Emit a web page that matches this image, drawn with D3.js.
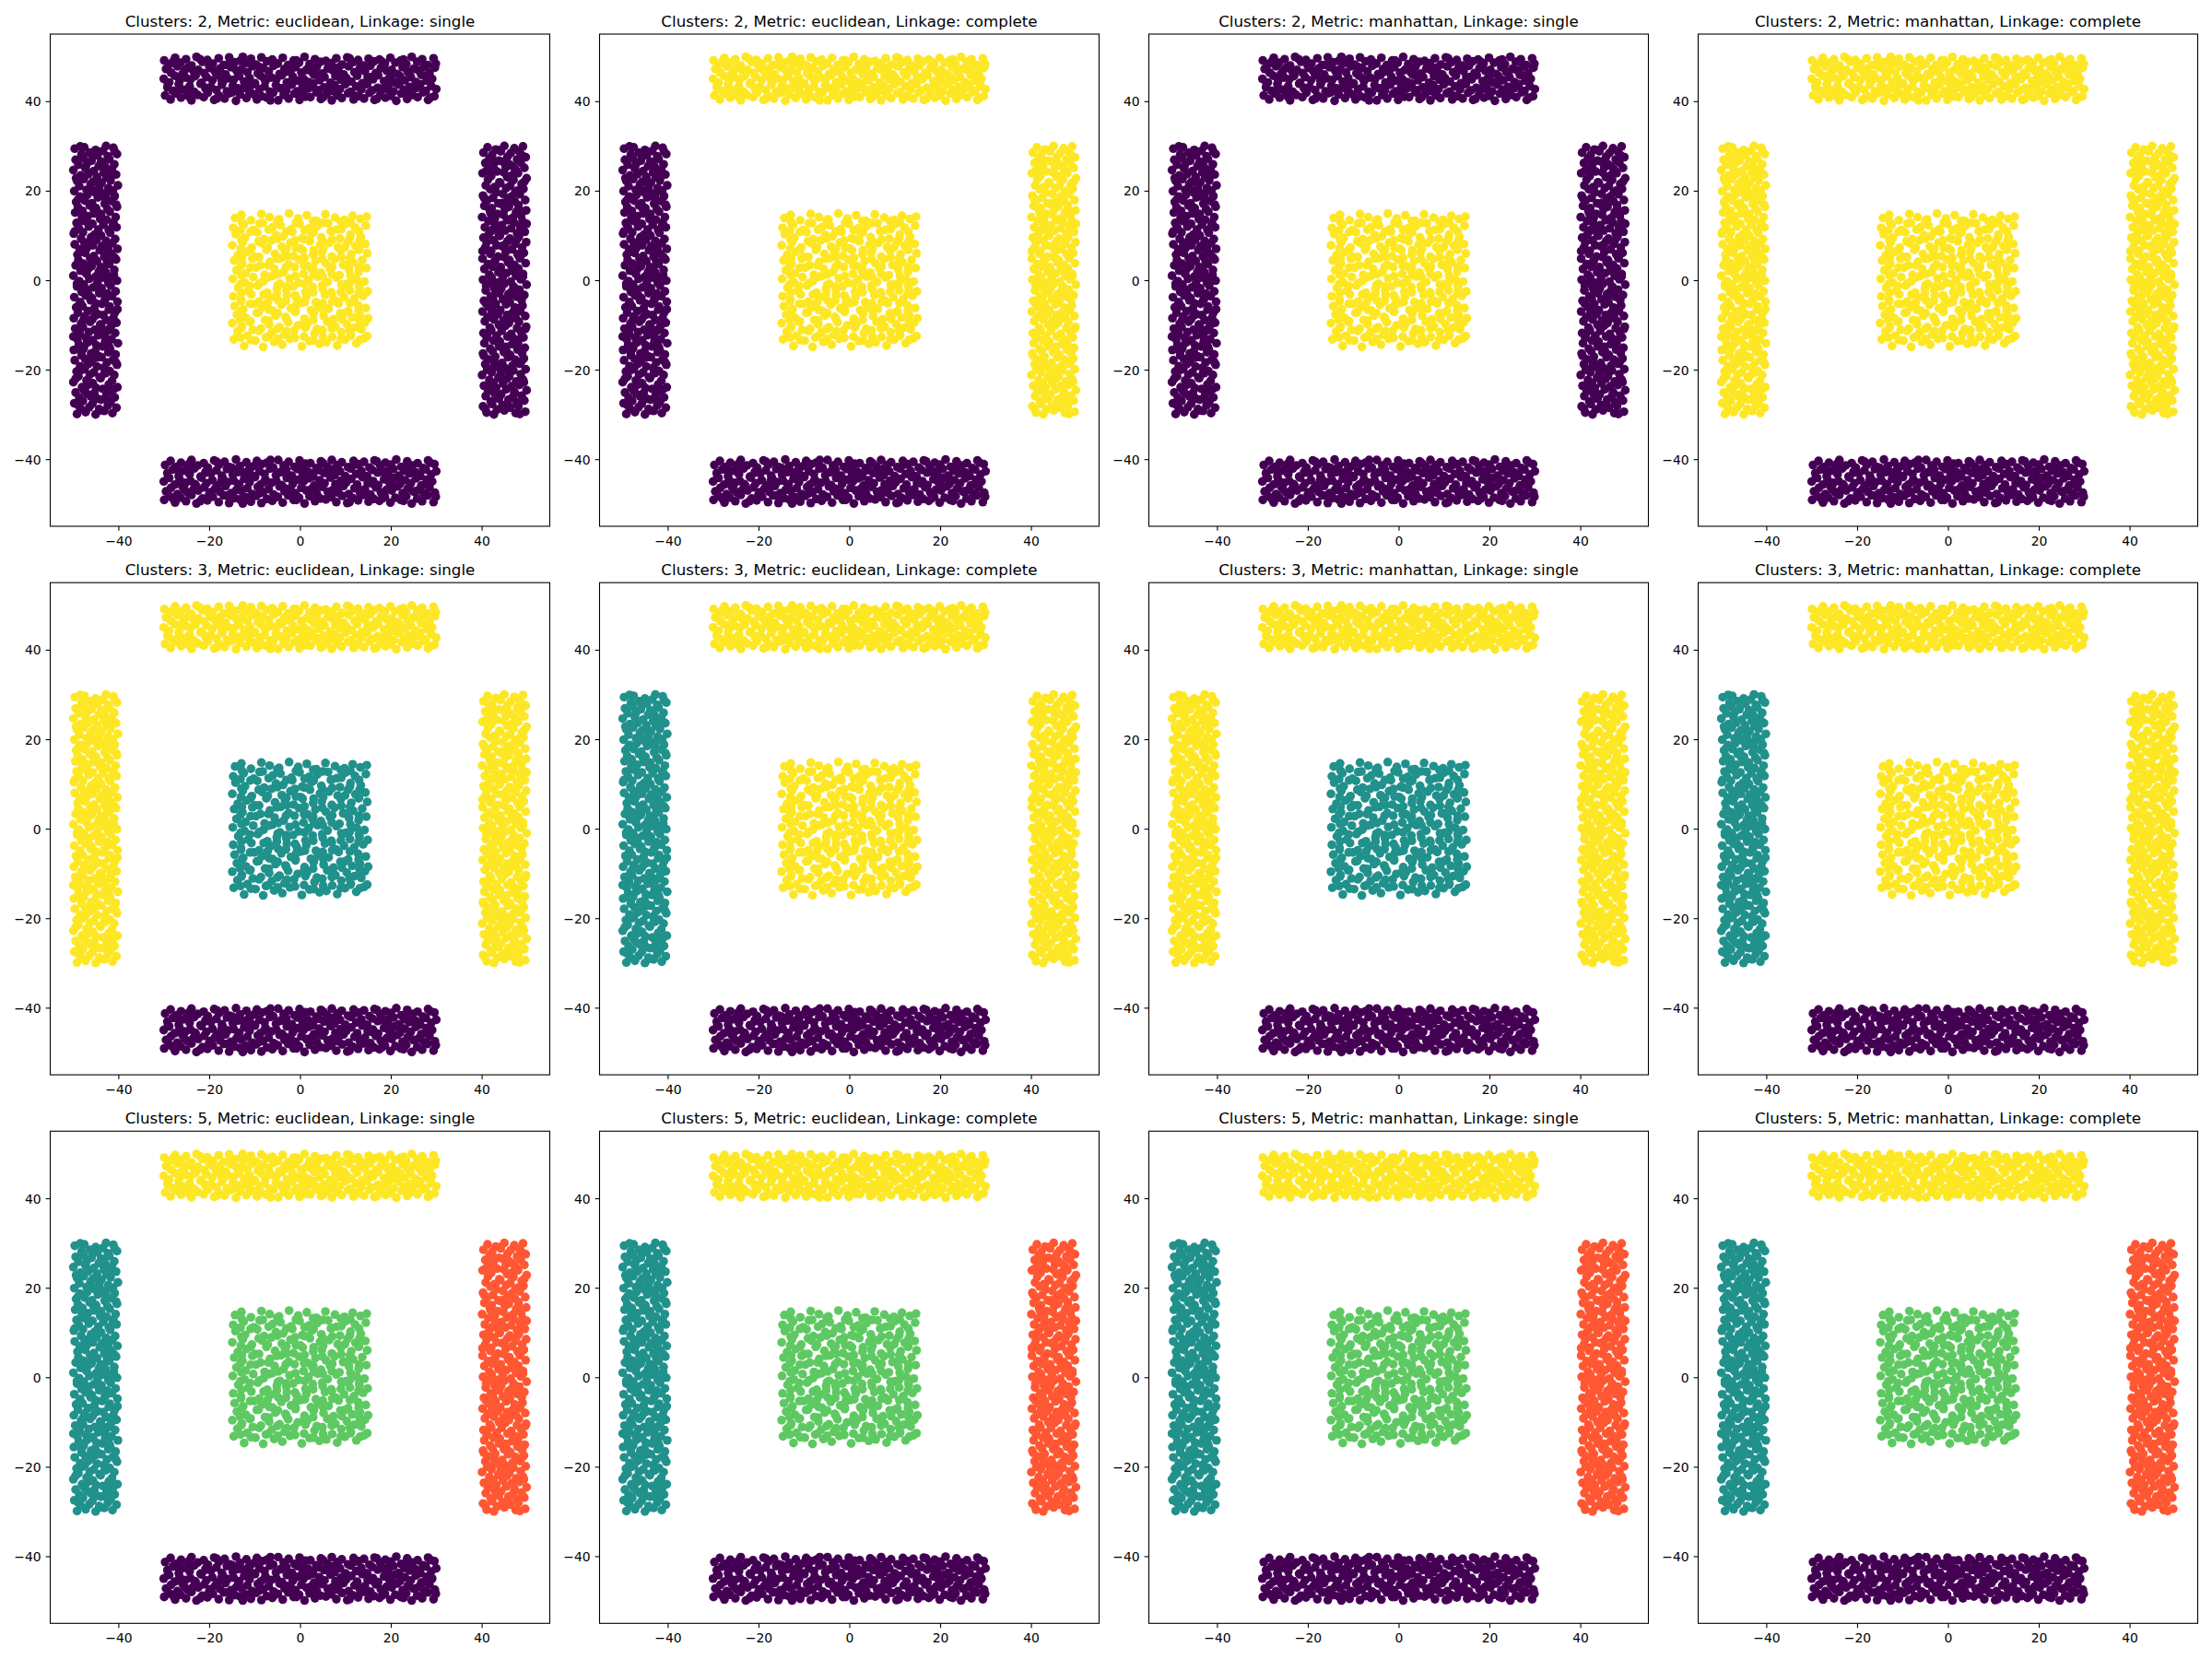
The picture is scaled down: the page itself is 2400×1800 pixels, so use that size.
<!DOCTYPE html>
<html><head><meta charset="utf-8">
<script src="https://cdn.jsdelivr.net/npm/d3@7"></script>
<style>body{margin:0;background:#fff}svg{display:block}</style>
</head><body>
<script>
// ---------- data ----------
const clusterCounts = [2, 3, 5];
const metrics = ["euclidean", "euclidean", "manhattan", "manhattan"];
const linkages = ["single", "complete", "single", "complete"];
const xTicks = [-40, -20, 0, 20, 40];
const yTicks = [-40, -20, 0, 20, 40];
const palette = {purple: "#440154", teal: "#21918c", green: "#5ec962", yellow: "#fde725", red: "#ff5733"};
// colour of each point group per panel (row-major); group order: top, bottom, left, right, center
const panelColors = [
  ["purple", "purple", "purple", "purple", "yellow"],
  ["yellow", "purple", "purple", "yellow", "yellow"],
  ["purple", "purple", "purple", "purple", "yellow"],
  ["yellow", "purple", "yellow", "yellow", "yellow"],
  ["yellow", "purple", "yellow", "yellow", "teal"],
  ["yellow", "purple", "teal", "yellow", "yellow"],
  ["yellow", "purple", "yellow", "yellow", "teal"],
  ["yellow", "purple", "teal", "yellow", "yellow"],
  ["yellow", "purple", "teal", "red", "green"],
  ["yellow", "purple", "teal", "red", "green"],
  ["yellow", "purple", "teal", "red", "green"],
  ["yellow", "purple", "teal", "red", "green"]
];

const topX = [
-29.7,-28.5,-27.2,-26.2,-24.8,-23.9,-22.5,-21.2,-20.3,-18.9,-17.8,-16.6,-15.5,-14.1,-13.2,-11.8,-10.9,-9.5,-8.4,-7.3,-5.9,-4.8,-3.6,-2.5,-1.2,-0.1,1.2,2.3,3.6,4.6,5.9,7.0,8.3,9.2,10.6,11.8,12.9,14.1,15.3,16.4,17.7,18.8,20.0,21.2,22.3,23.6,24.7,25.9,27.1,28.2,29.6,
-29.2,-28.0,-26.7,-25.6,-24.3,-23.3,-21.9,-20.8,-19.6,-18.4,-17.2,-16.1,-14.8,-13.7,-12.5,-11.3,-10.2,-8.9,-7.8,-6.6,-5.3,-4.2,-3.0,-1.8,-0.6,0.6,1.8,2.9,4.2,5.3,6.5,7.6,8.8,10.0,11.2,12.4,13.5,14.8,15.9,17.1,18.3,19.4,20.6,21.8,23.0,24.1,25.4,26.5,27.7,28.9,30.0,
-30.0,-28.8,-27.6,-26.5,-25.2,-24.1,-23.0,-21.7,-20.6,-19.3,-18.2,-17.0,-15.9,-14.6,-13.4,-12.3,-11.1,-9.9,-8.7,-7.6,-6.3,-5.2,-4.0,-2.9,-1.6,-0.5,0.8,1.9,3.1,4.3,5.4,6.7,7.8,9.0,10.2,11.3,12.6,13.7,14.9,16.1,17.2,18.5,19.6,20.8,22.0,23.1,24.4,25.5,26.7,27.9,29.1,
-29.5,-28.4,-27.0,-25.9,-24.7,-23.5,-22.4,-21.1,-20.0,-18.7,-17.6,-16.4,-15.2,-14.0,-12.9,-11.6,-10.5,-9.3,-8.1,-6.9,-5.8,-4.5,-3.4,-2.1,-1.0,0.3,1.4,2.6,3.7,4.9,6.1,7.2,8.4,9.6,10.7,12.0,13.1,14.3,15.5,16.7,17.8,19.1,20.2,21.4,22.6,23.7,25.0,26.1,27.3,28.5,29.7,
-29.9,-28.7,-27.5,-26.3,-25.1,-23.9,-22.8,-21.5,-20.4,-19.2,-17.9,-16.8,-15.6,-14.4,-13.2,-12.0,-10.8,-9.7,-8.5,-7.3,-6.1,-4.9,-3.8,-2.6,-1.4,-0.2,1.0,2.1,3.3,4.5,5.7,6.9,8.0,9.3,10.4,11.6,12.8,14.0,15.1,16.3,17.5,18.7,19.9,21.0,22.2,23.4,24.6,25.8,26.9,28.1,29.4,
-29.1,-27.9,-26.8,-25.4,-24.4,-23.1,-22.0,-20.7,-19.7,-18.3,-17.3,-16.0,-14.9,-13.6,-12.6,-11.2,-10.1,-9.0,-7.9,-6.5,-5.5,-4.3,-3.1,-1.9,-0.8,0.5,1.6,2.8,3.9,5.1,6.3,7.4,8.6,9.8,10.9,12.2,13.3,14.5,15.7,16.9,18.1,19.2,20.4,21.6,22.8,23.9,25.2,26.3,27.5,28.7,29.9
];
const topY = [
41.3,40.4,41.7,40.8,42.0,40.2,41.4,40.9,41.9,40.3,41.2,40.6,41.8,40.1,41.5,40.7,42.0,40.4,41.1,40.8,41.9,40.2,41.4,40.6,41.7,40.3,41.0,40.9,42.0,40.5,41.6,40.2,41.3,40.7,41.8,40.4,41.1,40.6,41.9,40.3,41.5,40.8,41.2,40.1,41.7,40.5,41.4,40.9,42.0,40.3,41.1,
43.1,42.3,43.8,42.6,43.4,42.1,43.9,42.8,43.2,42.5,43.7,42.2,43.5,42.9,43.0,42.4,43.8,42.7,43.3,42.1,43.6,42.9,42.4,43.7,42.2,43.4,42.8,43.9,42.5,43.1,42.3,43.6,42.7,43.8,42.1,43.3,42.6,43.9,42.4,43.0,42.8,43.5,42.2,43.7,42.6,43.2,42.9,43.8,42.3,43.4,42.7,
45.0,44.2,45.7,44.6,45.3,44.9,45.8,44.1,45.4,44.7,45.9,44.3,45.1,44.8,45.6,44.4,45.2,44.0,45.7,44.5,45.3,44.9,45.8,44.2,45.5,44.6,45.0,44.3,45.9,44.7,45.4,44.1,45.6,44.8,45.2,44.4,45.7,44.0,45.3,44.9,45.8,44.5,45.1,44.2,45.6,44.7,45.4,44.3,45.9,44.6,45.0,
47.2,46.4,47.8,46.1,47.5,46.8,47.0,46.3,47.9,46.6,47.3,46.0,47.6,46.9,47.1,46.5,47.8,46.2,47.4,46.7,47.9,46.1,47.2,46.8,47.6,46.4,47.0,46.6,47.7,46.2,47.3,46.9,47.5,46.0,47.8,46.5,47.1,46.7,47.9,46.3,47.4,46.8,47.0,46.1,47.6,46.6,47.2,46.9,47.7,46.3,47.5,
49.1,48.3,49.7,48.6,49.4,48.0,49.9,48.8,49.2,48.4,49.6,48.1,49.8,48.7,49.0,48.5,49.5,48.2,49.8,48.9,49.3,48.4,49.7,48.1,49.1,48.6,49.9,48.3,49.4,48.8,49.0,48.5,49.6,48.2,49.8,48.7,49.2,48.0,49.5,48.9,49.3,48.4,49.7,48.6,49.1,48.3,49.9,48.8,49.4,48.1,49.6,
44.1,48.9,42.5,46.9,41.0,45.6,49.4,43.0,47.4,40.6,44.8,48.1,42.0,46.2,49.9,43.6,41.5,47.7,45.1,40.2,48.6,42.9,46.6,44.4,49.1,41.8,47.1,43.3,45.9,40.9,48.3,42.2,46.4,44.6,49.6,41.2,47.9,43.8,45.4,40.5,48.8,42.7,46.0,44.0,49.3,41.6,47.3,43.4,45.7,40.8,48.4
];
const bottomX = [
-29.7,-28.5,-27.2,-26.2,-24.8,-23.9,-22.5,-21.2,-20.3,-18.9,-17.8,-16.6,-15.5,-14.1,-13.2,-11.8,-10.9,-9.5,-8.4,-7.3,-5.9,-4.8,-3.6,-2.5,-1.2,-0.1,1.2,2.3,3.6,4.6,5.9,7.0,8.3,9.2,10.6,11.8,12.9,14.1,15.3,16.4,17.7,18.8,20.0,21.2,22.3,23.6,24.7,25.9,27.1,28.2,29.6,
-29.2,-28.0,-26.7,-25.6,-24.3,-23.3,-21.9,-20.8,-19.6,-18.4,-17.2,-16.1,-14.8,-13.7,-12.5,-11.3,-10.2,-8.9,-7.8,-6.6,-5.3,-4.2,-3.0,-1.8,-0.6,0.6,1.8,2.9,4.2,5.3,6.5,7.6,8.8,10.0,11.2,12.4,13.5,14.8,15.9,17.1,18.3,19.4,20.6,21.8,23.0,24.1,25.4,26.5,27.7,28.9,30.0,
-30.0,-28.8,-27.6,-26.5,-25.2,-24.1,-23.0,-21.7,-20.6,-19.3,-18.2,-17.0,-15.9,-14.6,-13.4,-12.3,-11.1,-9.9,-8.7,-7.6,-6.3,-5.2,-4.0,-2.9,-1.6,-0.5,0.8,1.9,3.1,4.3,5.4,6.7,7.8,9.0,10.2,11.3,12.6,13.7,14.9,16.1,17.2,18.5,19.6,20.8,22.0,23.1,24.4,25.5,26.7,27.9,29.1,
-29.5,-28.4,-27.0,-25.9,-24.7,-23.5,-22.4,-21.1,-20.0,-18.7,-17.6,-16.4,-15.2,-14.0,-12.9,-11.6,-10.5,-9.3,-8.1,-6.9,-5.8,-4.5,-3.4,-2.1,-1.0,0.3,1.4,2.6,3.7,4.9,6.1,7.2,8.4,9.6,10.7,12.0,13.1,14.3,15.5,16.7,17.8,19.1,20.2,21.4,22.6,23.7,25.0,26.1,27.3,28.5,29.7,
-29.9,-28.7,-27.5,-26.3,-25.1,-23.9,-22.8,-21.5,-20.4,-19.2,-17.9,-16.8,-15.6,-14.4,-13.2,-12.0,-10.8,-9.7,-8.5,-7.3,-6.1,-4.9,-3.8,-2.6,-1.4,-0.2,1.0,2.1,3.3,4.5,5.7,6.9,8.0,9.3,10.4,11.6,12.8,14.0,15.1,16.3,17.5,18.7,19.9,21.0,22.2,23.4,24.6,25.8,26.9,28.1,29.4,
-29.1,-27.9,-26.8,-25.4,-24.4,-23.1,-22.0,-20.7,-19.7,-18.3,-17.3,-16.0,-14.9,-13.6,-12.6,-11.2,-10.1,-9.0,-7.9,-6.5,-5.5,-4.3,-3.1,-1.9,-0.8,0.5,1.6,2.8,3.9,5.1,6.3,7.4,8.6,9.8,10.9,12.2,13.3,14.5,15.7,16.9,18.1,19.2,20.4,21.6,22.8,23.9,25.2,26.3,27.5,28.7,29.9
];
const bottomY = [
-41.3,-40.4,-41.7,-40.8,-42.0,-40.2,-41.4,-40.9,-41.9,-40.3,-41.2,-40.6,-41.8,-40.1,-41.5,-40.7,-42.0,-40.4,-41.1,-40.8,-41.9,-40.2,-41.4,-40.6,-41.7,-40.3,-41.0,-40.9,-42.0,-40.5,-41.6,-40.2,-41.3,-40.7,-41.8,-40.4,-41.1,-40.6,-41.9,-40.3,-41.5,-40.8,-41.2,-40.1,-41.7,-40.5,-41.4,-40.9,-42.0,-40.3,-41.1,
-43.1,-42.3,-43.8,-42.6,-43.4,-42.1,-43.9,-42.8,-43.2,-42.5,-43.7,-42.2,-43.5,-42.9,-43.0,-42.4,-43.8,-42.7,-43.3,-42.1,-43.6,-42.9,-42.4,-43.7,-42.2,-43.4,-42.8,-43.9,-42.5,-43.1,-42.3,-43.6,-42.7,-43.8,-42.1,-43.3,-42.6,-43.9,-42.4,-43.0,-42.8,-43.5,-42.2,-43.7,-42.6,-43.2,-42.9,-43.8,-42.3,-43.4,-42.7,
-45.0,-44.2,-45.7,-44.6,-45.3,-44.9,-45.8,-44.1,-45.4,-44.7,-45.9,-44.3,-45.1,-44.8,-45.6,-44.4,-45.2,-44.0,-45.7,-44.5,-45.3,-44.9,-45.8,-44.2,-45.5,-44.6,-45.0,-44.3,-45.9,-44.7,-45.4,-44.1,-45.6,-44.8,-45.2,-44.4,-45.7,-44.0,-45.3,-44.9,-45.8,-44.5,-45.1,-44.2,-45.6,-44.7,-45.4,-44.3,-45.9,-44.6,-45.0,
-47.2,-46.4,-47.8,-46.1,-47.5,-46.8,-47.0,-46.3,-47.9,-46.6,-47.3,-46.0,-47.6,-46.9,-47.1,-46.5,-47.8,-46.2,-47.4,-46.7,-47.9,-46.1,-47.2,-46.8,-47.6,-46.4,-47.0,-46.6,-47.7,-46.2,-47.3,-46.9,-47.5,-46.0,-47.8,-46.5,-47.1,-46.7,-47.9,-46.3,-47.4,-46.8,-47.0,-46.1,-47.6,-46.6,-47.2,-46.9,-47.7,-46.3,-47.5,
-49.1,-48.3,-49.7,-48.6,-49.4,-48.0,-49.9,-48.8,-49.2,-48.4,-49.6,-48.1,-49.8,-48.7,-49.0,-48.5,-49.5,-48.2,-49.8,-48.9,-49.3,-48.4,-49.7,-48.1,-49.1,-48.6,-49.9,-48.3,-49.4,-48.8,-49.0,-48.5,-49.6,-48.2,-49.8,-48.7,-49.2,-48.0,-49.5,-48.9,-49.3,-48.4,-49.7,-48.6,-49.1,-48.3,-49.9,-48.8,-49.4,-48.1,-49.6,
-44.1,-48.9,-42.5,-46.9,-41.0,-45.6,-49.4,-43.0,-47.4,-40.6,-44.8,-48.1,-42.0,-46.2,-49.9,-43.6,-41.5,-47.7,-45.1,-40.2,-48.6,-42.9,-46.6,-44.4,-49.1,-41.8,-47.1,-43.3,-45.9,-40.9,-48.3,-42.2,-46.4,-44.6,-49.6,-41.2,-47.9,-43.8,-45.4,-40.5,-48.8,-42.7,-46.0,-44.0,-49.3,-41.6,-47.3,-43.4,-45.7,-40.8,-48.4
];
const leftX = [
-41.3,-40.4,-41.7,-40.8,-42.0,-40.2,-41.4,-40.9,-41.9,-40.3,-41.2,-40.6,-41.8,-40.1,-41.5,-40.7,-42.0,-40.4,-41.1,-40.8,-41.9,-40.2,-41.4,-40.6,-41.7,-40.3,-41.0,-40.9,-42.0,-40.5,-41.6,-40.2,-41.3,-40.7,-41.8,-40.4,-41.1,-40.6,-41.9,-40.3,-41.5,-40.8,-41.2,-40.1,-41.7,-40.5,-41.4,-40.9,-42.0,-40.3,-41.1,
-43.1,-42.3,-43.8,-42.6,-43.4,-42.1,-43.9,-42.8,-43.2,-42.5,-43.7,-42.2,-43.5,-42.9,-43.0,-42.4,-43.8,-42.7,-43.3,-42.1,-43.6,-42.9,-42.4,-43.7,-42.2,-43.4,-42.8,-43.9,-42.5,-43.1,-42.3,-43.6,-42.7,-43.8,-42.1,-43.3,-42.6,-43.9,-42.4,-43.0,-42.8,-43.5,-42.2,-43.7,-42.6,-43.2,-42.9,-43.8,-42.3,-43.4,-42.7,
-45.0,-44.2,-45.7,-44.6,-45.3,-44.9,-45.8,-44.1,-45.4,-44.7,-45.9,-44.3,-45.1,-44.8,-45.6,-44.4,-45.2,-44.0,-45.7,-44.5,-45.3,-44.9,-45.8,-44.2,-45.5,-44.6,-45.0,-44.3,-45.9,-44.7,-45.4,-44.1,-45.6,-44.8,-45.2,-44.4,-45.7,-44.0,-45.3,-44.9,-45.8,-44.5,-45.1,-44.2,-45.6,-44.7,-45.4,-44.3,-45.9,-44.6,-45.0,
-47.2,-46.4,-47.8,-46.1,-47.5,-46.8,-47.0,-46.3,-47.9,-46.6,-47.3,-46.0,-47.6,-46.9,-47.1,-46.5,-47.8,-46.2,-47.4,-46.7,-47.9,-46.1,-47.2,-46.8,-47.6,-46.4,-47.0,-46.6,-47.7,-46.2,-47.3,-46.9,-47.5,-46.0,-47.8,-46.5,-47.1,-46.7,-47.9,-46.3,-47.4,-46.8,-47.0,-46.1,-47.6,-46.6,-47.2,-46.9,-47.7,-46.3,-47.5,
-49.1,-48.3,-49.7,-48.6,-49.4,-48.0,-49.9,-48.8,-49.2,-48.4,-49.6,-48.1,-49.8,-48.7,-49.0,-48.5,-49.5,-48.2,-49.8,-48.9,-49.3,-48.4,-49.7,-48.1,-49.1,-48.6,-49.9,-48.3,-49.4,-48.8,-49.0,-48.5,-49.6,-48.2,-49.8,-48.7,-49.2,-48.0,-49.5,-48.9,-49.3,-48.4,-49.7,-48.6,-49.1,-48.3,-49.9,-48.8,-49.4,-48.1,-49.6,
-44.1,-48.9,-42.5,-46.9,-41.0,-45.6,-49.4,-43.0,-47.4,-40.6,-44.8,-48.1,-42.0,-46.2,-49.9,-43.6,-41.5,-47.7,-45.1,-40.2,-48.6,-42.9,-46.6,-44.4,-49.1,-41.8,-47.1,-43.3,-45.9,-40.9,-48.3,-42.2,-46.4,-44.6,-49.6,-41.2,-47.9,-43.8,-45.4,-40.5,-48.8,-42.7,-46.0,-44.0,-49.3,-41.6,-47.3,-43.4,-45.7,-40.8,-48.4
];
const leftY = [
-29.7,-28.5,-27.2,-26.2,-24.8,-23.9,-22.5,-21.2,-20.3,-18.9,-17.8,-16.6,-15.5,-14.1,-13.2,-11.8,-10.9,-9.5,-8.4,-7.3,-5.9,-4.8,-3.6,-2.5,-1.2,-0.1,1.2,2.3,3.6,4.6,5.9,7.0,8.3,9.2,10.6,11.8,12.9,14.1,15.3,16.4,17.7,18.8,20.0,21.2,22.3,23.6,24.7,25.9,27.1,28.2,29.6,
-29.2,-28.0,-26.7,-25.6,-24.3,-23.3,-21.9,-20.8,-19.6,-18.4,-17.2,-16.1,-14.8,-13.7,-12.5,-11.3,-10.2,-8.9,-7.8,-6.6,-5.3,-4.2,-3.0,-1.8,-0.6,0.6,1.8,2.9,4.2,5.3,6.5,7.6,8.8,10.0,11.2,12.4,13.5,14.8,15.9,17.1,18.3,19.4,20.6,21.8,23.0,24.1,25.4,26.5,27.7,28.9,30.0,
-30.0,-28.8,-27.6,-26.5,-25.2,-24.1,-23.0,-21.7,-20.6,-19.3,-18.2,-17.0,-15.9,-14.6,-13.4,-12.3,-11.1,-9.9,-8.7,-7.6,-6.3,-5.2,-4.0,-2.9,-1.6,-0.5,0.8,1.9,3.1,4.3,5.4,6.7,7.8,9.0,10.2,11.3,12.6,13.7,14.9,16.1,17.2,18.5,19.6,20.8,22.0,23.1,24.4,25.5,26.7,27.9,29.1,
-29.5,-28.4,-27.0,-25.9,-24.7,-23.5,-22.4,-21.1,-20.0,-18.7,-17.6,-16.4,-15.2,-14.0,-12.9,-11.6,-10.5,-9.3,-8.1,-6.9,-5.8,-4.5,-3.4,-2.1,-1.0,0.3,1.4,2.6,3.7,4.9,6.1,7.2,8.4,9.6,10.7,12.0,13.1,14.3,15.5,16.7,17.8,19.1,20.2,21.4,22.6,23.7,25.0,26.1,27.3,28.5,29.7,
-29.9,-28.7,-27.5,-26.3,-25.1,-23.9,-22.8,-21.5,-20.4,-19.2,-17.9,-16.8,-15.6,-14.4,-13.2,-12.0,-10.8,-9.7,-8.5,-7.3,-6.1,-4.9,-3.8,-2.6,-1.4,-0.2,1.0,2.1,3.3,4.5,5.7,6.9,8.0,9.3,10.4,11.6,12.8,14.0,15.1,16.3,17.5,18.7,19.9,21.0,22.2,23.4,24.6,25.8,26.9,28.1,29.4,
-29.1,-27.9,-26.8,-25.4,-24.4,-23.1,-22.0,-20.7,-19.7,-18.3,-17.3,-16.0,-14.9,-13.6,-12.6,-11.2,-10.1,-9.0,-7.9,-6.5,-5.5,-4.3,-3.1,-1.9,-0.8,0.5,1.6,2.8,3.9,5.1,6.3,7.4,8.6,9.8,10.9,12.2,13.3,14.5,15.7,16.9,18.1,19.2,20.4,21.6,22.8,23.9,25.2,26.3,27.5,28.7,29.9
];
const rightX = [
41.3,40.4,41.7,40.8,42.0,40.2,41.4,40.9,41.9,40.3,41.2,40.6,41.8,40.1,41.5,40.7,42.0,40.4,41.1,40.8,41.9,40.2,41.4,40.6,41.7,40.3,41.0,40.9,42.0,40.5,41.6,40.2,41.3,40.7,41.8,40.4,41.1,40.6,41.9,40.3,41.5,40.8,41.2,40.1,41.7,40.5,41.4,40.9,42.0,40.3,41.1,
43.1,42.3,43.8,42.6,43.4,42.1,43.9,42.8,43.2,42.5,43.7,42.2,43.5,42.9,43.0,42.4,43.8,42.7,43.3,42.1,43.6,42.9,42.4,43.7,42.2,43.4,42.8,43.9,42.5,43.1,42.3,43.6,42.7,43.8,42.1,43.3,42.6,43.9,42.4,43.0,42.8,43.5,42.2,43.7,42.6,43.2,42.9,43.8,42.3,43.4,42.7,
45.0,44.2,45.7,44.6,45.3,44.9,45.8,44.1,45.4,44.7,45.9,44.3,45.1,44.8,45.6,44.4,45.2,44.0,45.7,44.5,45.3,44.9,45.8,44.2,45.5,44.6,45.0,44.3,45.9,44.7,45.4,44.1,45.6,44.8,45.2,44.4,45.7,44.0,45.3,44.9,45.8,44.5,45.1,44.2,45.6,44.7,45.4,44.3,45.9,44.6,45.0,
47.2,46.4,47.8,46.1,47.5,46.8,47.0,46.3,47.9,46.6,47.3,46.0,47.6,46.9,47.1,46.5,47.8,46.2,47.4,46.7,47.9,46.1,47.2,46.8,47.6,46.4,47.0,46.6,47.7,46.2,47.3,46.9,47.5,46.0,47.8,46.5,47.1,46.7,47.9,46.3,47.4,46.8,47.0,46.1,47.6,46.6,47.2,46.9,47.7,46.3,47.5,
49.1,48.3,49.7,48.6,49.4,48.0,49.9,48.8,49.2,48.4,49.6,48.1,49.8,48.7,49.0,48.5,49.5,48.2,49.8,48.9,49.3,48.4,49.7,48.1,49.1,48.6,49.9,48.3,49.4,48.8,49.0,48.5,49.6,48.2,49.8,48.7,49.2,48.0,49.5,48.9,49.3,48.4,49.7,48.6,49.1,48.3,49.9,48.8,49.4,48.1,49.6,
44.1,48.9,42.5,46.9,41.0,45.6,49.4,43.0,47.4,40.6,44.8,48.1,42.0,46.2,49.9,43.6,41.5,47.7,45.1,40.2,48.6,42.9,46.6,44.4,49.1,41.8,47.1,43.3,45.9,40.9,48.3,42.2,46.4,44.6,49.6,41.2,47.9,43.8,45.4,40.5,48.8,42.7,46.0,44.0,49.3,41.6,47.3,43.4,45.7,40.8,48.4
];
const rightY = [
29.7,28.5,27.2,26.2,24.8,23.9,22.5,21.2,20.3,18.9,17.8,16.6,15.5,14.1,13.2,11.8,10.9,9.5,8.4,7.3,5.9,4.8,3.6,2.5,1.2,0.1,-1.2,-2.3,-3.6,-4.6,-5.9,-7.0,-8.3,-9.2,-10.6,-11.8,-12.9,-14.1,-15.3,-16.4,-17.7,-18.8,-20.0,-21.2,-22.3,-23.6,-24.7,-25.9,-27.1,-28.2,-29.6,
29.2,28.0,26.7,25.6,24.3,23.3,21.9,20.8,19.6,18.4,17.2,16.1,14.8,13.7,12.5,11.3,10.2,8.9,7.8,6.6,5.3,4.2,3.0,1.8,0.6,-0.6,-1.8,-2.9,-4.2,-5.3,-6.5,-7.6,-8.8,-10.0,-11.2,-12.4,-13.5,-14.8,-15.9,-17.1,-18.3,-19.4,-20.6,-21.8,-23.0,-24.1,-25.4,-26.5,-27.7,-28.9,-30.0,
30.0,28.8,27.6,26.5,25.2,24.1,23.0,21.7,20.6,19.3,18.2,17.0,15.9,14.6,13.4,12.3,11.1,9.9,8.7,7.6,6.3,5.2,4.0,2.9,1.6,0.5,-0.8,-1.9,-3.1,-4.3,-5.4,-6.7,-7.8,-9.0,-10.2,-11.3,-12.6,-13.7,-14.9,-16.1,-17.2,-18.5,-19.6,-20.8,-22.0,-23.1,-24.4,-25.5,-26.7,-27.9,-29.1,
29.5,28.4,27.0,25.9,24.7,23.5,22.4,21.1,20.0,18.7,17.6,16.4,15.2,14.0,12.9,11.6,10.5,9.3,8.1,6.9,5.8,4.5,3.4,2.1,1.0,-0.3,-1.4,-2.6,-3.7,-4.9,-6.1,-7.2,-8.4,-9.6,-10.7,-12.0,-13.1,-14.3,-15.5,-16.7,-17.8,-19.1,-20.2,-21.4,-22.6,-23.7,-25.0,-26.1,-27.3,-28.5,-29.7,
29.9,28.7,27.5,26.3,25.1,23.9,22.8,21.5,20.4,19.2,17.9,16.8,15.6,14.4,13.2,12.0,10.8,9.7,8.5,7.3,6.1,4.9,3.8,2.6,1.4,0.2,-1.0,-2.1,-3.3,-4.5,-5.7,-6.9,-8.0,-9.3,-10.4,-11.6,-12.8,-14.0,-15.1,-16.3,-17.5,-18.7,-19.9,-21.0,-22.2,-23.4,-24.6,-25.8,-26.9,-28.1,-29.4,
29.1,27.9,26.8,25.4,24.4,23.1,22.0,20.7,19.7,18.3,17.3,16.0,14.9,13.6,12.6,11.2,10.1,9.0,7.9,6.5,5.5,4.3,3.1,1.9,0.8,-0.5,-1.6,-2.8,-3.9,-5.1,-6.3,-7.4,-8.6,-9.8,-10.9,-12.2,-13.3,-14.5,-15.7,-16.9,-18.1,-19.2,-20.4,-21.6,-22.8,-23.9,-25.2,-26.3,-27.5,-28.7,-29.9
];
const centerX = [
-14.6,-12.3,-9.8,-8.1,-5.7,-3.9,-2.2,0.4,2.1,4.3,5.8,8.2,9.9,12.4,14.1,
-13.8,-11.6,-10.4,-7.5,-6.2,-3.4,-1.3,0.9,3.2,4.9,7.1,9.1,11.2,13.5,14.8,
-14.9,-12.8,-10.9,-8.6,-6.8,-4.5,-2.6,-0.5,1.6,3.7,6.0,7.8,10.3,12.0,14.3,
-13.9,-11.9,-9.5,-7.7,-5.4,-3.2,-1.0,1.0,3.0,5.2,7.4,8.9,11.5,13.2,15.0,
-14.4,-12.5,-10.1,-8.4,-6.0,-4.1,-2.0,0.2,2.4,4.0,6.3,8.5,10.6,12.8,14.5,
-14.7,-13.0,-10.7,-9.0,-6.5,-4.8,-2.9,-0.7,1.4,3.5,5.5,7.9,9.7,11.9,13.9,
-13.6,-11.4,-9.3,-7.2,-5.1,-3.0,-1.5,1.2,2.8,5.0,6.9,9.3,11.0,13.1,14.9,
-14.8,-12.2,-10.3,-8.0,-6.1,-4.4,-2.3,-0.3,1.9,3.9,6.1,8.0,10.1,12.5,14.2,
-14.0,-12.0,-9.7,-7.8,-5.6,-3.6,-1.2,0.8,2.7,4.6,6.6,8.7,10.8,12.9,14.6,
-14.5,-12.7,-10.5,-8.7,-6.6,-4.2,-2.5,-0.2,1.7,3.4,5.7,7.6,9.5,11.7,13.7,
-13.7,-11.8,-9.9,-7.4,-5.5,-3.3,-1.4,0.6,2.9,4.8,7.0,9.0,11.3,13.0,14.8,
-14.9,-12.6,-10.6,-8.3,-6.3,-4.0,-2.1,0.1,2.2,4.4,6.4,8.3,10.5,12.2,14.4,
-14.2,-12.1,-9.4,-7.9,-5.3,-3.7,-1.7,0.5,2.5,4.7,6.8,8.8,11.1,13.4,
-14.7,-12.4,-10.2,-8.2,-6.0,-4.3,-1.9,-0.1,2.0,3.8,6.2,8.1,10.0,12.1,14.5,
-14.3,-12.9,-10.8,-8.5,-6.7,-4.6,-2.4,-0.4,1.5,3.6,5.6,7.7,9.8,11.6,13.3,14.7,
-13.1,-10.8,-7.0,-4.9,-1.1,3.0,5.1,9.0,11.1,13.2,
-12.9,-9.0,-5.0,-2.9,1.2,4.9,7.0,10.9,13.0,
-13.2,-11.1,-6.9,-3.0,0.9,2.9,6.8,9.2,13.1,
-12.8,-9.1,-6.8,-4.9,-1.0,3.1,5.1,9.9,12.9,
-13.0,-11.0,-7.1,-3.1,-0.8,1.1,5.0,7.1,11.0,
-12.9,-8.0,-5.1,-1.1,2.9,7.0,9.0,12.9,
-13.1,-11.0,-8.9,-4.9,-3.0,1.0,4.9,9.1,11.0,13.0,
-12.9,-6.9,-4.8,-1.0,3.1,5.0,7.0,11.1,
-13.1,-10.9,-7.0,-3.1,0.9,2.9,7.1,10.0,13.0,
-12.8,-9.0,-5.1,-2.9,1.0,4.9,9.1,11.0,
-13.0,-10.9,-7.1,-3.0,-0.9,3.0,5.1,9.9,12.9,
-12.9,-9.1,-5.0,-1.1,1.0,5.0,7.1,11.0,13.1,
-13.1,-10.9,-6.9,-3.0,1.0,3.0,7.0,9.1,13.0,
-12.8,-8.9,-5.0,-0.9,2.9,5.0,9.0,11.1
];
const centerY = [
-13.2,-14.7,-13.5,-14.9,-13.8,-14.4,-13.1,-14.8,-13.6,-14.2,-13.9,-14.6,-13.3,-14.1,-13.0,
-11.5,-12.4,-11.1,-12.8,-11.7,-12.2,-11.3,-12.6,-11.9,-11.2,-12.7,-11.6,-12.3,-11.0,-12.5,
-9.6,-10.3,-9.2,-10.8,-9.9,-10.5,-9.4,-10.1,-9.7,-10.9,-9.3,-10.4,-9.8,-10.6,-9.5,
-7.7,-8.4,-7.3,-8.9,-7.9,-8.2,-7.1,-8.6,-7.5,-8.0,-8.7,-7.4,-8.3,-7.8,-8.5,
-5.8,-6.5,-5.3,-6.1,-6.8,-5.5,-6.3,-5.1,-6.7,-5.9,-6.4,-5.2,-6.9,-5.6,-6.2,
-3.6,-4.3,-3.2,-4.8,-3.9,-4.5,-3.4,-4.1,-3.7,-4.9,-3.3,-4.6,-3.8,-4.2,-3.5,
-1.7,-2.4,-1.2,-2.8,-1.9,-2.2,-1.4,-2.6,-1.5,-2.0,-2.7,-1.3,-2.3,-1.8,-2.5,
0.3,-0.5,0.7,-0.2,0.9,-0.8,0.4,-0.6,0.1,0.8,-0.4,0.6,-0.9,0.2,-0.3,
2.2,1.5,2.8,1.2,2.5,1.8,2.9,1.4,2.3,1.7,2.6,1.1,2.4,1.9,2.7,
4.4,3.7,4.8,3.3,4.1,4.9,3.5,4.6,3.2,4.3,3.8,4.7,3.4,4.0,4.5,
5.6,6.3,5.2,6.8,5.9,6.4,5.4,6.7,5.7,6.1,5.3,6.6,5.8,6.9,6.0,
7.8,8.5,7.3,8.2,8.9,7.5,8.4,7.1,8.7,7.9,8.3,7.4,8.6,7.7,8.1,
10.3,9.5,10.7,9.2,10.1,9.8,10.8,9.4,10.4,9.6,10.9,9.3,10.2,9.7,
11.7,12.4,11.2,12.8,11.9,12.3,11.4,12.6,11.6,12.1,12.7,11.3,12.5,11.8,12.2,
13.9,14.6,13.4,14.8,14.1,13.6,14.9,13.8,14.5,13.3,14.7,14.0,13.5,14.4,13.7,14.2,
-12.8,-13.4,-12.6,-13.1,-12.9,-13.5,-12.7,-13.2,-12.5,-13.3,
-10.7,-11.3,-10.9,-11.4,-10.6,-11.2,-10.8,-11.1,-10.5,
-8.8,-9.3,-9.0,-8.6,-9.4,-8.9,-9.2,-8.7,-9.1,
-6.9,-7.2,-6.6,-7.4,-6.8,-7.1,-6.7,-7.3,-6.9,
-4.7,-5.3,-5.0,-4.6,-5.4,-4.9,-5.2,-4.8,-5.1,
-2.8,-3.2,-2.9,-3.4,-2.7,-3.1,-2.6,-3.0,
-0.9,-1.3,-0.7,-1.1,-1.4,-0.8,-1.2,-1.0,-0.6,-1.3,
1.1,0.7,1.3,0.9,1.2,0.8,1.4,1.0,
3.1,2.8,3.3,2.9,3.2,2.7,3.0,3.4,2.9,
4.9,5.2,4.8,5.3,5.0,4.7,5.1,4.9,
7.1,6.8,7.3,6.9,7.2,6.7,7.0,7.4,6.8,
9.0,8.7,9.3,8.9,9.2,8.8,9.1,9.4,8.7,
11.1,10.8,11.3,10.9,11.2,10.7,11.0,11.4,10.9,
13.0,12.7,13.3,12.9,13.2,12.8,13.1,12.9
];

// ---------- layout ----------
const W = 2400, H = 1800;
const axLeft0 = 54.5, axTop0 = 37, colStep = 596, rowStep = 595.15;
const aw = 542, ah = 534;
const font = "'DejaVu Sans', 'Liberation Sans', sans-serif";

const svg = d3.select("body").append("svg")
  .attr("width", W).attr("height", H)
  .style("background", "#fff");

const x = d3.scaleLinear().domain([-55, 55]).range([0, aw]);
const y = d3.scaleLinear().domain([-55, 55]).range([ah, 0]);

const groups = [[topX, topY], [bottomX, bottomY], [leftX, leftY], [rightX, rightY], [centerX, centerY]];

for (let r = 0; r < 3; r++) {
  for (let c = 0; c < 4; c++) {
    const i = r * 4 + c;
    const g = svg.append("g")
      .attr("transform", `translate(${axLeft0 + c * colStep},${axTop0 + r * rowStep})`);

    groups.forEach((grp, k) => {
      g.append("g").selectAll("circle")
        .data(d3.zip(grp[0], grp[1]))
        .join("circle")
        .attr("cx", d => x(d[0]))
        .attr("cy", d => y(d[1]))
        .attr("r", 4.8)
        .attr("fill", palette[panelColors[i][k]]);
    });

    const xa = g.append("g").attr("transform", `translate(0,${ah})`)
      .call(d3.axisBottom(x).tickValues(xTicks).tickSize(4.86).tickPadding(5.8));
    const ya = g.append("g")
      .call(d3.axisLeft(y).tickValues(yTicks).tickSize(4.86).tickPadding(5.0));
    [xa, ya].forEach(a => {
      a.select(".domain").remove();
      a.selectAll(".tick line").attr("stroke", "#000").attr("stroke-width", 1.1);
      a.selectAll(".tick text").attr("fill", "#000")
        .style("font-family", font).style("font-size", "13.9px");
    });
    ya.selectAll(".tick text").attr("dy", "0.36em");

    g.append("rect").attr("x", 0).attr("y", 0).attr("width", aw).attr("height", ah)
      .attr("fill", "none").attr("stroke", "#000").attr("stroke-width", 1.1);

    g.append("text")
      .attr("x", aw / 2).attr("y", -8.3)
      .attr("text-anchor", "middle")
      .style("font-family", font).style("font-size", "16.7px").attr("fill", "#000")
      .text(`Clusters: ${clusterCounts[r]}, Metric: ${metrics[c]}, Linkage: ${linkages[c]}`);
  }
}
</script>
</body></html>
